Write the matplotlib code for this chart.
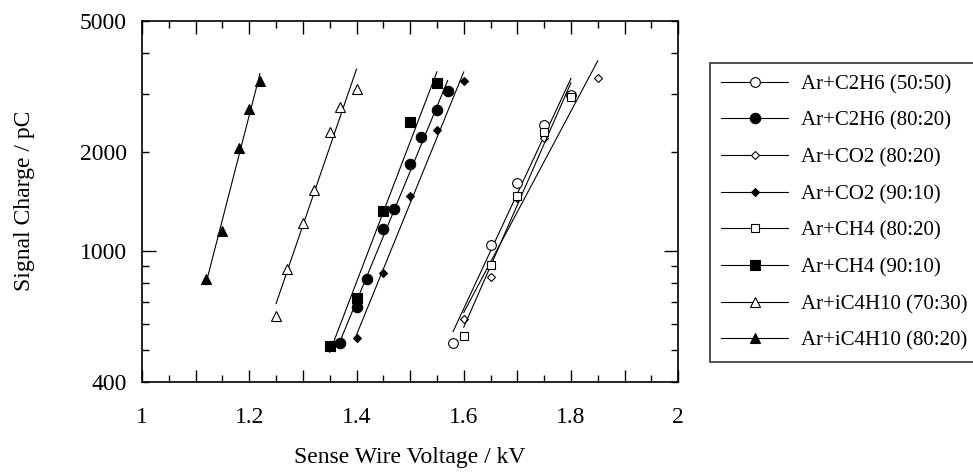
import matplotlib
matplotlib.use('Agg')
import matplotlib.pyplot as plt
import numpy as np
from matplotlib.ticker import FixedLocator, FuncFormatter, MultipleLocator

plt.rcParams['font.family'] = ['Liberation Serif', 'DejaVu Serif']

# Sense wire voltage (kV) and signal charge (pC) for each gas mixture
c2h6_5050_v = [1.58, 1.65, 1.70, 1.75, 1.80]
c2h6_5050_q = [524, 1043, 1606, 2415, 2980]

c2h6_8020_v = [1.37, 1.40, 1.42, 1.45, 1.47, 1.50, 1.52, 1.55, 1.57]
c2h6_8020_q = [524, 677, 822, 1167, 1342, 1839, 2216, 2683, 3050]

co2_8020_v = [1.60, 1.65, 1.70, 1.75, 1.85]
co2_8020_q = [622, 834, 1450, 2205, 3355]

co2_9010_v = [1.40, 1.45, 1.50, 1.55, 1.60]
co2_9010_q = [545, 856, 1470, 2333, 3288]

ch4_8020_v = [1.60, 1.65, 1.70, 1.75, 1.80]
ch4_8020_q = [552, 907, 1470, 2300, 2940]

ch4_9010_v = [1.35, 1.40, 1.45, 1.50, 1.55]
ch4_9010_q = [515, 720, 1317, 2462, 3233]

ic4_7030_v = [1.25, 1.27, 1.30, 1.32, 1.35, 1.37, 1.40]
ic4_7030_q = [632, 880, 1215, 1526, 2290, 2727, 3107]

ic4_8020_v = [1.12, 1.15, 1.18, 1.20, 1.22]
ic4_8020_q = [822, 1153, 2052, 2703, 3288]

series = [
    ('Ar+C2H6 (50:50)', c2h6_5050_v, c2h6_5050_q, 'o', 'white', 7),
    ('Ar+C2H6 (80:20)', c2h6_8020_v, c2h6_8020_q, 'o', 'black', 7.5),
    ('Ar+CO2 (80:20)', co2_8020_v, co2_8020_q, 'D', 'white', 4.5),
    ('Ar+CO2 (90:10)', co2_9010_v, co2_9010_q, 'D', 'black', 4.5),
    ('Ar+CH4 (80:20)', ch4_8020_v, ch4_8020_q, 's', 'white', 6),
    ('Ar+CH4 (90:10)', ch4_9010_v, ch4_9010_q, 's', 'black', 6.5),
    ('Ar+iC4H10 (70:30)', ic4_7030_v, ic4_7030_q, '^', 'white', 7),
    ('Ar+iC4H10 (80:20)', ic4_8020_v, ic4_8020_q, '^', 'black', 7),
]

fig = plt.figure(figsize=(9.73, 4.72), dpi=100)
ax = fig.add_axes([0.146, 0.191, 0.551, 0.765])

for label, v, q, m, fc, ms in series:
    v = np.array(v)
    q = np.array(q)
    # exponential fit drawn over the measured range
    b, a = np.polyfit(v, np.log10(q), 1)
    xs = np.array([v.min(), v.max()])
    ax.plot(xs, 10 ** (a + b * xs), color='black', lw=0.8)
    ax.plot(v, q, linestyle='none', marker=m, markerfacecolor=fc,
            markeredgecolor='black', markersize=ms, markeredgewidth=0.8)
    # legend handle: line with marker
    ax.plot([], [], color='black', lw=0.8, marker=m, markerfacecolor=fc,
            markeredgecolor='black', markersize=ms, markeredgewidth=0.8, label=label)

ax.set_yscale('log')
ax.set_xlim(1, 2)
ax.set_ylim(400, 5000)

ax.xaxis.set_major_locator(MultipleLocator(0.1))
ax.xaxis.set_minor_locator(MultipleLocator(0.05))
ax.xaxis.set_major_formatter(FuncFormatter(
    lambda x, p: ('%g' % round(x, 1)) if abs(round(x * 10)) % 2 == 0 else ''))

ax.yaxis.set_major_locator(FixedLocator([1000]))
ax.yaxis.set_minor_locator(FixedLocator([400, 500, 600, 700, 800, 900, 2000, 3000, 4000, 5000]))
ax.yaxis.set_major_formatter(FuncFormatter(lambda y, p: '%d' % y))
ax.yaxis.set_minor_formatter(FuncFormatter(
    lambda y, p: '%d' % y if int(round(y)) in (400, 2000, 5000) else ''))

ax.tick_params(which='both', direction='in', top=True, right=True, labelsize=17, width=1)
ax.tick_params(axis='x', which='major', length=9, pad=18)
ax.tick_params(axis='x', which='minor', length=5)
ax.tick_params(axis='y', which='major', length=10, pad=11)
ax.tick_params(axis='y', which='minor', length=5, pad=11)

for s in ax.spines.values():
    s.set_linewidth(1.2)

ax.set_xlabel('Sense Wire Voltage / kV', fontsize=17)
ax.set_ylabel('Signal Charge / pC', fontsize=17)
ax.xaxis.set_label_coords(0.5, -0.18)
ax.yaxis.set_label_coords(-0.20, 0.5)

leg = fig.legend(loc='upper left', bbox_to_anchor=(710 / 973, 1 - 63 / 472),
                 bbox_transform=fig.transFigure, borderaxespad=0,
                 fontsize=15, frameon=True, fancybox=False, handlelength=3.2,
                 handletextpad=0.6, labelspacing=0.82, borderpad=0.55)
leg.get_frame().set_edgecolor('black')
leg.get_frame().set_linewidth(1.2)

fig.savefig('out.png', dpi=100)
